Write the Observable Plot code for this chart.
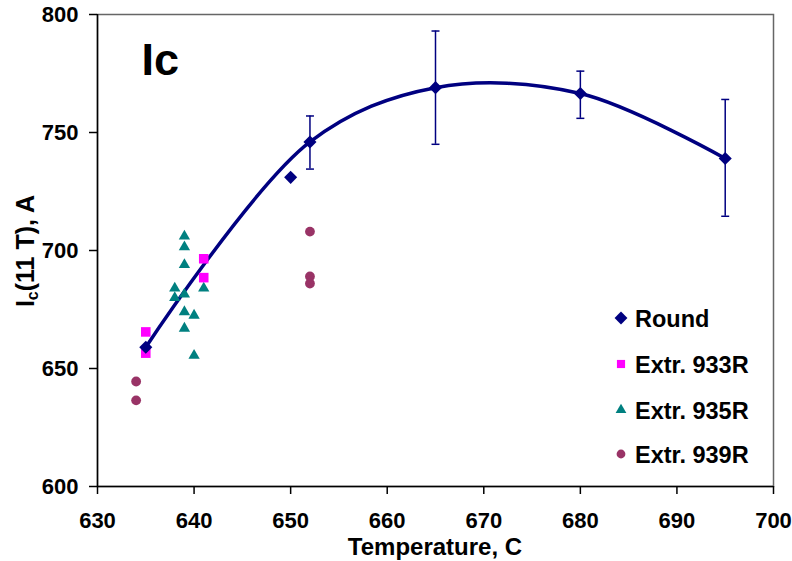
<!DOCTYPE html>
<html><head><meta charset="utf-8">
<script src="https://cdn.jsdelivr.net/npm/d3@7"></script>
<script src="https://cdn.jsdelivr.net/npm/@observablehq/plot@0.6"></script>
<style>
body{margin:0;background:#fff;}
#wrap{position:relative;width:792px;height:561px;}
</style></head><body><div id="wrap"></div>
<script>
// Round samples (navy diamonds)
const roundT = [635, 650, 652, 665, 680, 695];
const roundIc = [659, 731, 746, 769, 766.5, 739];
// Error bars on Round samples
const errT = [652, 665, 680, 695];
const errLow = [734.5, 745, 756, 714.5];
const errHigh = [757, 793, 776, 764];
const fitT = [635, 652, 665, 680, 695];
const fitIc = [659, 746, 769, 766.5, 739];
// Extr. 933R (magenta squares)
const e933T = [635, 635, 641, 641];
const e933Ic = [665.5, 656.5, 696.5, 688.5];
// Extr. 935R (teal triangles)
const e935T = [639, 639, 639, 638, 638, 639, 641, 639, 640, 639, 640];
const e935Ic = [706, 701.5, 694, 684, 680, 681.5, 684, 674, 672.5, 667, 655.5];
// Extr. 939R (plum circles)
const e939T = [634, 634, 652, 652, 652];
const e939Ic = [644.5, 636.5, 708, 689, 686];
// Axes
const xTicks = [630, 640, 650, 660, 670, 680, 690, 700];
const yTicks = [600, 650, 700, 750, 800];
const seriesNames = ["Round", "Extr. 933R", "Extr. 935R", "Extr. 939R"];

const NAVY = "#000080", MAG = "#FF00FF", TEAL = "#008080", PLUM = "#993366";
const FONT = "'Liberation Sans', Arial, sans-serif";

const zip = (xs, ys) => xs.map((x, i) => ({t: x, ic: ys[i]}));
const roundData = zip(roundT, roundIc);
const fitData = zip(fitT, fitIc);
const d933 = zip(e933T, e933Ic);
const d935 = zip(e935T, e935Ic);
const d939 = zip(e939T, e939Ic);
const errData = errT.map((t, i) => ({t, lo: errLow[i], hi: errHigh[i]}));

const capSymbol = {draw(ctx, size) { const w = Math.sqrt(size); ctx.moveTo(-w / 2, 0); ctx.lineTo(w / 2, 0); }};

const chart = Plot.plot({
  width: 792, height: 561,
  marginLeft: 97, marginRight: 19, marginTop: 14, marginBottom: 75,
  style: {fontFamily: FONT, fontSize: "22px", fontWeight: "bold", color: "#000", background: "#fff"},
  x: {domain: [630, 700], ticks: xTicks, tickSize: 8, tickPadding: 18, label: null, tickFormat: d => String(d)},
  y: {domain: [600, 800], ticks: yTicks, tickSize: 8, tickPadding: 11, label: null, tickFormat: d => String(d)},
  marks: [
    Plot.frame({stroke: "#666", strokeWidth: 1.5}),
    Plot.ruleX([630], {stroke: "#000", strokeWidth: 1.5}),
    Plot.ruleY([600], {stroke: "#000", strokeWidth: 1.5}),
    Plot.axisX({ticks: xTicks, tickSize: 8, tickPadding: 18, stroke: "#000", strokeWidth: 1.5, tickFormat: d => String(d), label: null}),
    Plot.axisY({ticks: yTicks, tickSize: 8, tickPadding: 11, stroke: "#000", strokeWidth: 1.5, tickFormat: d => String(d), label: null}),
    Plot.ruleX(errData, {x: "t", y1: "lo", y2: "hi", stroke: NAVY, strokeWidth: 1.5}),
    Plot.dot(errData, {x: "t", y: "lo", symbol: capSymbol, r: 4.5, stroke: NAVY, strokeWidth: 1.5}),
    Plot.dot(errData, {x: "t", y: "hi", symbol: capSymbol, r: 4.5, stroke: NAVY, strokeWidth: 1.5}),
    Plot.line(fitData, {x: "t", y: "ic", curve: "catmull-rom", stroke: NAVY, strokeWidth: 3.5}),
    Plot.dot(d935, {x: "t", y: "ic", symbol: "triangle", r: 4.2, fill: TEAL}),
    Plot.dot(d933, {x: "t", y: "ic", symbol: "square", r: 5.4, fill: MAG}),
    Plot.dot(d939, {x: "t", y: "ic", symbol: "circle", r: 4.9, fill: PLUM}),
    Plot.dot(roundData, {x: "t", y: "ic", symbol: "diamond2", r: 5.9, fill: NAVY}),
    Plot.text(["Ic"], {frameAnchor: "top-left", dx: 44, dy: 29, fontSize: 45, fontWeight: "bold", fill: "#000"})
  ]
});
document.getElementById("wrap").appendChild(chart);

const svg = d3.select(chart);
// Axis titles
svg.append("text").attr("x", 435).attr("y", 555).attr("text-anchor", "middle")
  .attr("font-size", 24).attr("font-weight", "bold").attr("font-family", FONT).attr("fill", "#000")
  .text("Temperature, C");
const yl = svg.append("text").attr("transform", "translate(34,251) rotate(-90)").attr("text-anchor", "middle")
  .attr("font-size", 25).attr("font-weight", "bold").attr("font-family", FONT).attr("fill", "#000");
yl.append("tspan").text("I");
yl.append("tspan").attr("font-size", 16).attr("dy", 4).text("c");
yl.append("tspan").attr("dy", -4).text("(11 T), A");

// Legend
const legSymbols = [
  {type: d3.symbolDiamond2, r: 5.8, fill: NAVY},
  {type: d3.symbolSquare, r: 4.6, fill: MAG},
  {type: d3.symbolTriangle, r: 4.0, fill: TEAL},
  {type: d3.symbolCircle, r: 4.4, fill: PLUM}
];
const legY = [318, 364, 410, 454];
const lg = svg.append("g");
seriesNames.forEach((name, i) => {
  const s = legSymbols[i];
  lg.append("path").attr("transform", `translate(621,${legY[i]})`)
    .attr("d", d3.symbol(s.type, Math.PI * s.r * s.r)()).attr("fill", s.fill);
  lg.append("text").attr("x", 635).attr("y", legY[i] + 8.5).attr("text-anchor", "start")
    .attr("font-size", 23.5).attr("font-weight", "bold").attr("font-family", FONT).attr("fill", "#000")
    .text(name);
});
</script></body></html>
